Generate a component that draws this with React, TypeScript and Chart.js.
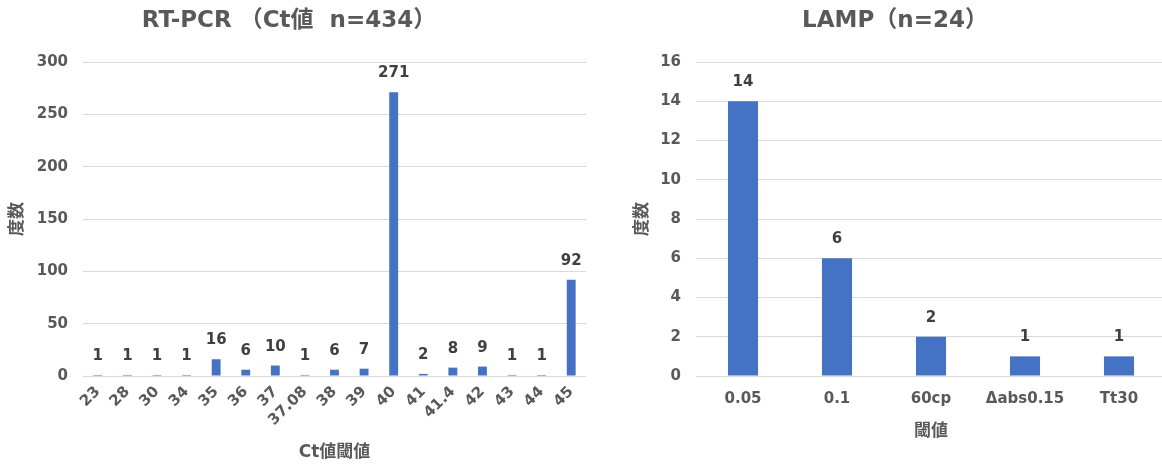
import React, { useEffect, useRef } from "react";
import { Chart, registerables } from "chart.js";

Chart.register(...registerables);

// ---- data ----
const pcrTitle = "RT-PCR （Ct値  n=434）";
const pcrCategories = ["23", "28", "30", "34", "35", "36", "37", "37.08", "38", "39", "40", "41", "41.4", "42", "43", "44", "45"];
const pcrCounts = [1, 1, 1, 1, 16, 6, 10, 1, 6, 7, 271, 2, 8, 9, 1, 1, 92];
const pcrYMax = 300;
const pcrYStep = 50;
const pcrXTitle = "Ct値閾値";

const lampTitle = "LAMP（n=24）";
const lampCategories = ["0.05", "0.1", "60cp", "Δabs0.15", "Tt30"];
const lampCounts = [14, 6, 2, 1, 1];
const lampYMax = 16;
const lampYStep = 2;
const lampXTitle = "閾値";

const yTitle = "度数";

// ---- style ----
const FONT = '"DejaVu Sans", "Noto Sans CJK JP", sans-serif';
const AXIS_COLOR = "#595959";
const LABEL_COLOR = "#404040";
const BAR_COLOR = "#4472C4";
const GRID_COLOR = "#d9d9d9";

const valueLabels = {
  id: "valueLabels",
  afterDatasetsDraw(chart: any) {
    const ctx = chart.ctx;
    const meta = chart.getDatasetMeta(0);
    const data = chart.data.datasets[0].data;
    ctx.save();
    ctx.font = `bold 15px ${FONT}`;
    ctx.fillStyle = LABEL_COLOR;
    ctx.textAlign = "center";
    ctx.textBaseline = "alphabetic";
    meta.data.forEach((bar: any, i: number) => {
      ctx.fillText(String(data[i]), bar.x, bar.y - 15);
    });
    ctx.restore();
  },
};

const headline = {
  id: "headline",
  afterDraw(chart: any, _args: any, opts: any) {
    const ctx = chart.ctx;
    ctx.save();
    ctx.font = `bold 23px ${FONT}`;
    ctx.fillStyle = AXIS_COLOR;
    ctx.textAlign = "center";
    ctx.textBaseline = "middle";
    ctx.fillText(opts.text, opts.x, opts.y);
    ctx.restore();
  },
};

type Cfg = {
  categories: string[];
  counts: number[];
  yMax: number;
  yStep: number;
  xTitle: string;
  title: string;
  titleX: number;
  width: number;
  padRight: number;
  yAxisWidth: number;
  yTitlePad: number;
  xTitlePad: number;
  rotate: boolean;
  barPct: number;
  xTickPad: number;
};

function BarChart({ cfg, left }: { cfg: Cfg; left: number }) {
  const ref = useRef<HTMLCanvasElement | null>(null);
  useEffect(() => {
    if (!ref.current) return;
    const chart = new Chart(ref.current, {
      type: "bar",
      data: {
        labels: cfg.categories,
        datasets: [
          {
            data: cfg.counts,
            backgroundColor: BAR_COLOR,
            categoryPercentage: 1,
            barPercentage: cfg.barPct,
          },
        ],
      },
      plugins: [valueLabels, headline],
      options: {
        responsive: false,
        animation: false,
        devicePixelRatio: 1,
        layout: { padding: { top: 62, right: cfg.padRight, left: 0, bottom: 0 } },
        plugins: {
          legend: { display: false },
          tooltip: { enabled: false },
          title: { display: false },
          headline: { text: cfg.title, x: cfg.titleX, y: 21 },
        } as any,
        scales: {
          x: {
            grid: { display: false, drawTicks: false },
            border: { display: false },
            ticks: {
              color: AXIS_COLOR,
              font: { family: FONT, size: 15, weight: "bold" },
              padding: cfg.xTickPad,
              maxRotation: cfg.rotate ? 45 : 0,
              minRotation: cfg.rotate ? 45 : 0,
              autoSkip: false,
            },
            title: {
              display: true,
              text: cfg.xTitle,
              color: AXIS_COLOR,
              font: { family: FONT, size: 17, weight: "bold" },
              padding: { top: 0, bottom: cfg.xTitlePad },
            },
            afterFit: (s: any) => {
              s.height = 90;
            },
          },
          y: {
            min: 0,
            max: cfg.yMax,
            grid: { color: GRID_COLOR, lineWidth: 1, drawTicks: false },
            border: { display: false },
            ticks: {
              stepSize: cfg.yStep,
              color: AXIS_COLOR,
              font: { family: FONT, size: 15, weight: "bold" },
              padding: 15,
            },
            title: {
              display: true,
              text: yTitle,
              color: AXIS_COLOR,
              font: { family: FONT, size: 17, weight: "bold" },
              padding: { top: cfg.yTitlePad, bottom: 0 },
            },
            afterFit: (s: any) => {
              s.width = cfg.yAxisWidth;
            },
          },
        },
      } as any,
    });
    return () => chart.destroy();
  }, []);
  return (
    <canvas
      ref={ref}
      width={cfg.width}
      height={466}
      style={{ position: "absolute", left, top: 0, width: cfg.width, height: 466 }}
    />
  );
}

const pcrCfg: Cfg = {
  categories: pcrCategories,
  counts: pcrCounts,
  yMax: pcrYMax,
  yStep: pcrYStep,
  xTitle: pcrXTitle,
  title: pcrTitle,
  titleX: 289,
  width: 592,
  padRight: 6,
  yAxisWidth: 83,
  yTitlePad: 7.8,
  xTitlePad: 2.8,
  rotate: true,
  barPct: 0.3,
  xTickPad: 7,
};

const lampCfg: Cfg = {
  categories: lampCategories,
  counts: lampCounts,
  yMax: lampYMax,
  yStep: lampYStep,
  xTitle: lampXTitle,
  title: lampTitle,
  titleX: 295,
  width: 590,
  padRight: 24,
  yAxisWidth: 96,
  yTitlePad: 32.8,
  xTitlePad: 23.8,
  rotate: false,
  barPct: 0.32,
  xTickPad: 14,
};

export default function App() {
  return (
    <div
      style={{
        position: "fixed",
        left: 0,
        top: 0,
        width: 1162,
        height: 466,
        overflow: "hidden",
        background: "#ffffff",
      }}
    >
      <BarChart cfg={pcrCfg} left={0} />
      <BarChart cfg={lampCfg} left={600} />
    </div>
  );
}
